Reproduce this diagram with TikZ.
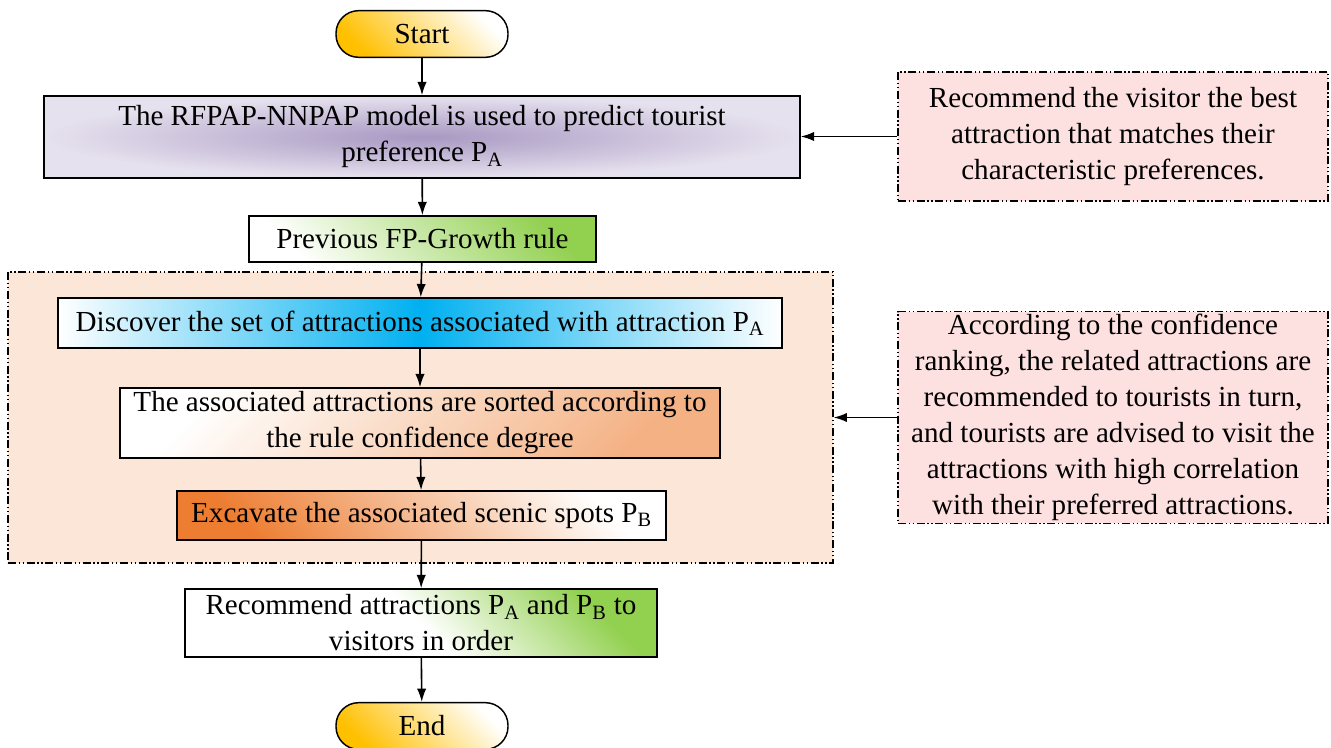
\documentclass[tikz,border=0pt]{standalone}
\usepackage{fontspec}
\setmainfont{Liberation Serif}
\usetikzlibrary{arrows.meta}
\definecolor{termorange}{HTML}{FFC000}
\definecolor{modelpurple}{HTML}{A898C2}
\definecolor{modellav}{HTML}{E6E1EE}
\definecolor{rulegreen}{HTML}{92D050}
\definecolor{findblue}{HTML}{00B0F0}
\definecolor{sortorange}{HTML}{F4B183}
\definecolor{digorange}{HTML}{ED7D31}
\definecolor{grppeach}{HTML}{FBE6D7}
\definecolor{notepink}{HTML}{FDE0E0}
\tikzset{
  box/.style={draw,line width=1.1pt,rectangle,align=center,inner sep=2pt,
    font=\fontsize{21.8}{27}\selectfont},
  term/.style={box,rounded corners=17pt,minimum width=129pt,minimum height=35pt,
    top color=white,bottom color=termorange,shading angle=-45},
  dashdotdot/.style={dash pattern=on 6pt off 2pt on 1pt off 2pt on 1pt off 2pt},
  note/.style={box,fill=notepink,dashdotdot,line width=0.9pt,
    minimum width=322.5pt},
  flow/.style={line width=1.2pt,-{Latex[length=10pt,width=7pt]}}
}
\begin{document}
\begin{tikzpicture}[x=0.75pt,y=-0.75pt]
\useasboundingbox (0,0) rectangle (1331,748);
\node (grp) at (420.5,417.5) [draw,fill=grppeach,dashdotdot,line width=0.9pt,
  minimum width=618.75pt,minimum height=218.25pt] {};
\node (start) at (422,34) [term] {Start};
\node (model) at (422,137) [box,minimum width=567pt,minimum height=61.5pt,
  inner color=modelpurple,outer color=modellav]
  {The RFPAP-NNPAP model is used to predict tourist\\ preference P\textsubscript{A}};
\node (prev) at (422.5,239) [box,minimum width=260pt,minimum height=34.5pt,
  top color=rulegreen,bottom color=white,shading angle=-45]
  {Previous FP-Growth rule};
\node (find) at (420,323) [box,minimum width=543pt,minimum height=37.5pt,
  left color=white,right color=white,middle color=findblue]
  {Discover the set of attractions associated with attraction P\textsubscript{A}};
\node (sort) at (420,423) [box,minimum width=450pt,minimum height=52.5pt,
  top color=white,bottom color=sortorange,shading angle=45]
  {The associated attractions are sorted according to\\ the rule confidence degree};
\node (dig) at (421.5,515.5) [box,minimum width=366.75pt,minimum height=36.75pt,
  top color=white,bottom color=digorange,shading angle=-45]
  {Excavate the associated scenic spots P\textsubscript{B}};
\node (rec) at (421,623) [box,minimum width=354pt,minimum height=51pt,
  top color=rulegreen,bottom color=white,middle color=white,shading angle=-45]
  {Recommend attractions P\textsubscript{A} and P\textsubscript{B} to\\ visitors in order};
\node (end) at (422,726) [term] {End};
\node (note1) at (1113,136.5) [note,minimum height=96.75pt]
  {Recommend the visitor the best\\ attraction that matches their\\ characteristic preferences.};
\node (note2) at (1113,417.5) [note,minimum height=153.75pt]
  {According to the confidence\\ ranking, the related attractions are\\ recommended to tourists in turn,\\
   and tourists are advised to visit the\\ attractions with high correlation\\ with their preferred attractions.};
\draw[flow] (start) -- (model);
\draw[flow] (model) -- (prev);
\draw[flow] (prev) -- (find);
\draw[flow] (find) -- (sort);
\draw[flow] (sort) -- (dig);
\draw[flow] (dig) -- (rec);
\draw[flow] (rec) -- (end);
\draw[flow] (note1.west) -- (model.east |- note1.west);
\draw[flow] (note2.west) -- (grp.east |- note2.west);
\end{tikzpicture}
\end{document}
